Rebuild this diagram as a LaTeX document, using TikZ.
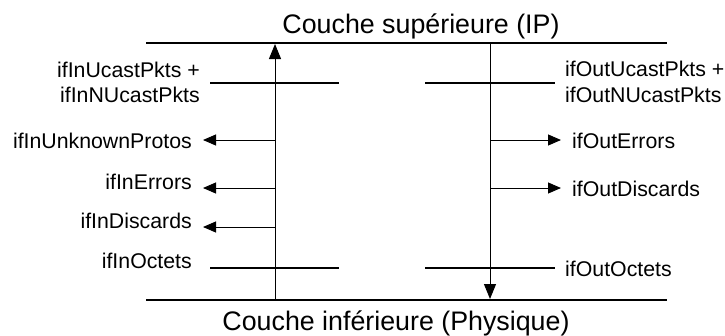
\documentclass[tikz,border=0pt]{standalone}
\usepackage{fontspec}
\setmainfont{Liberation Sans}
\usetikzlibrary{arrows.meta}
\begin{document}
\begin{tikzpicture}[x=1pt,y=-1pt,
  layerline/.style={line width=2pt},
  counter/.style={line width=2pt},
  flow/.style={line width=1pt,-{Triangle[length=15pt,width=12pt]}},
  tap/.style={line width=1pt,-{Triangle[length=13pt,width=11pt]}},
  lbl/.style={inner sep=0pt,font=\fontsize{21.3}{25}\selectfont},
  layername/.style={inner sep=0pt,font=\fontsize{26.8}{30}\selectfont}]
\useasboundingbox (0,0) rectangle (725,335);

% layer boundaries
\coordinate (upL) at (146,43);  \coordinate (upR) at (667,43);
\coordinate (loL) at (146,300); \coordinate (loR) at (667,300);
\draw[layerline] (upL) -- (upR);
\draw[layerline] (loL) -- (loR);
\node[layername, anchor=base] (upper) at (421,33) {Couche supérieure (IP)};
\node[layername, anchor=base] (lower) at (396,330) {Couche inférieure (Physique)};

% receive and send paths
\coordinate (inBot) at (275,300); \coordinate (inTop) at (275,44);
\coordinate (outTop) at (490,43); \coordinate (outBot) at (490,299);
\draw[flow] (inBot) -- (inTop);
\draw[flow] (outTop) -- (outBot);

% counting points
\coordinate (inPktsL) at (210,83);  \coordinate (inPktsR) at (339,83);
\coordinate (outPktsL) at (425,83); \coordinate (outPktsR) at (555,83);
\coordinate (inOctL) at (210,268);  \coordinate (inOctR) at (339,268);
\coordinate (outOctL) at (425,268); \coordinate (outOctR) at (555,268);
\draw[counter] (inPktsL) -- (inPktsR);
\draw[counter] (outPktsL) -- (outPktsR);
\draw[counter] (inOctL) -- (inOctR);
\draw[counter] (outOctL) -- (outOctR);

% branches leaving the paths
\coordinate (inUnkFrom) at (275,140); \coordinate (inUnkTo) at (203,140);
\coordinate (inErrFrom) at (275,188); \coordinate (inErrTo) at (203,188);
\coordinate (inDisFrom) at (275,227); \coordinate (inDisTo) at (203,227);
\coordinate (outErrFrom) at (490,140); \coordinate (outErrTo) at (561,140);
\coordinate (outDisFrom) at (490,188); \coordinate (outDisTo) at (561,188);
\draw[tap] (inUnkFrom) -- (inUnkTo);
\draw[tap] (inErrFrom) -- (inErrTo);
\draw[tap] (inDisFrom) -- (inDisTo);
\draw[tap] (outErrFrom) -- (outErrTo);
\draw[tap] (outDisFrom) -- (outDisTo);

% counter names, receive side
\node[lbl, anchor=base east] (inPktsA) at (200,77) {ifInUcastPkts +};
\node[lbl, anchor=base east] (inPktsB) at (200,102) {ifInNUcastPkts};
\node[lbl, anchor=base east] (inUnk) at (192,148) {ifInUnknownProtos};
\node[lbl, anchor=base east] (inErr) at (192,189) {ifInErrors};
\node[lbl, anchor=base east] (inDis) at (192,228) {ifInDiscards};
\node[lbl, anchor=base east] (inOct) at (192,268) {ifInOctets};

% counter names, send side
\node[lbl, anchor=base west] (outPktsA) at (565,76) {ifOutUcastPkts +};
\node[lbl, anchor=base west] (outPktsB) at (565,102) {ifOutNUcastPkts};
\node[lbl, anchor=base west] (outErr) at (572,148) {ifOutErrors};
\node[lbl, anchor=base west] (outDis) at (572,196) {ifOutDiscards};
\node[lbl, anchor=base west] (outOct) at (565,276) {ifOutOctets};
\end{tikzpicture}
\end{document}
